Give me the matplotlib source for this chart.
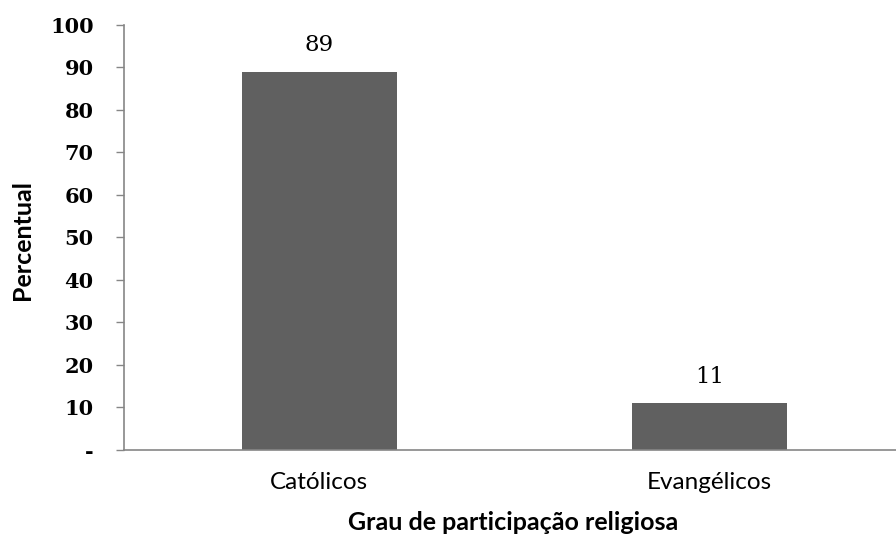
import matplotlib
matplotlib.use("Agg")
import matplotlib.pyplot as plt

categories = ["Católicos", "Evangélicos"]
values = [89, 11]
yticks = [0, 10, 20, 30, 40, 50, 60, 70, 80, 90, 100]
ytick_labels = ["-", "10", "20", "30", "40", "50", "60", "70", "80", "90", "100"]

W, H = 896, 540
fig = plt.figure(figsize=(W / 100, H / 100), dpi=100)
left, right, top, bottom = 124, 905, 25, 449.7
ax = fig.add_axes([left / W, (H - bottom) / H, (right - left) / W, (bottom - top) / H])

bar_color = "#606060"
axis_color = "#868686"
x = list(range(len(categories)))
bars = ax.bar(x, values, width=0.397, color=bar_color, zorder=2)

ax.set_xlim(-0.5, len(categories) - 0.5)
ax.set_ylim(0, 100)
ax.set_yticks(yticks)
ax.set_yticklabels(ytick_labels, family="DejaVu Serif", fontweight="bold", fontsize=15)
ax.tick_params(axis="y", direction="out", length=5.8, width=1, color=axis_color, pad=16)
ax.set_xticks(x)
ax.set_xticklabels(categories, family="Lato", fontsize=17.5)
ax.tick_params(axis="x", length=0, pad=16)

for s in ["top", "right"]:
    ax.spines[s].set_visible(False)
for s in ["left", "bottom"]:
    ax.spines[s].set_color(axis_color)
    ax.spines[s].set_linewidth(1.2)

for xi, v in zip(x, values):
    ax.annotate(str(v), (xi, v), xytext=(0, 11), textcoords="offset points",
                ha="center", va="bottom", family="DejaVu Serif", fontsize=16.5)

fig.text(22 / W, 1 - 240 / H, "Percentual", rotation=90, ha="center", va="center",
         family="Lato", fontweight="bold", fontsize=18)
fig.text(513 / W, 1 - 523 / H, "Grau de participação religiosa", ha="center", va="center",
         family="Lato", fontweight="bold", fontsize=18)

fig.savefig("out.png", dpi=100)
